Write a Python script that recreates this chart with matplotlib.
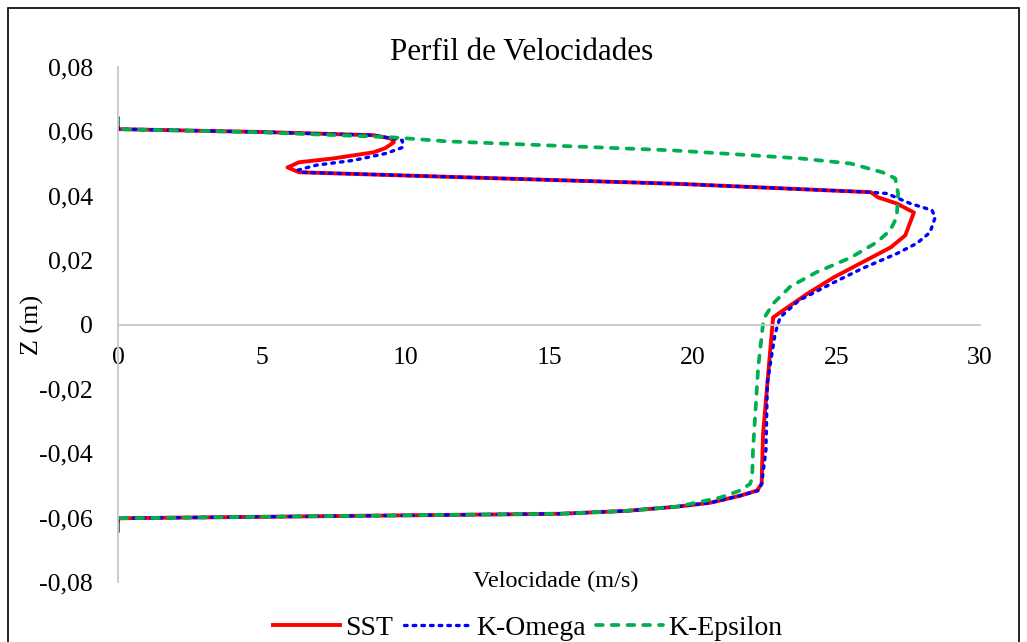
import matplotlib.pyplot as plt
from matplotlib.patches import Rectangle
from matplotlib.ticker import FuncFormatter, MultipleLocator

plt.rcParams['font.family'] = ['Liberation Serif', 'DejaVu Serif']

# velocity (m/s) vs height z (m)
sst_v = [0, 0, 5.0, 8.9, 9.5, 9.6, 9.3, 8.9, 7.5, 6.3, 5.9, 6.3, 19.5, 26.2, 26.45, 27.1,
         27.7, 27.4, 26.9, 25.9, 24.9, 24.0, 23.15, 22.8, 22.7, 22.45, 22.4, 22.24, 21.65,
         20.6, 19.45, 17.7, 15.4, 0, 0]
sst_z = [0.064, 0.0607, 0.0598, 0.0588, 0.0578, 0.0566, 0.0548, 0.0535, 0.0516, 0.0504,
         0.0488, 0.0473, 0.0437, 0.0411, 0.0395, 0.0376, 0.0348, 0.0277, 0.024, 0.0193,
         0.0146, 0.0096, 0.0044, 0.0022, -0.008, -0.034, -0.0495, -0.0516, -0.0532,
         -0.0554, -0.0566, -0.0579, -0.0588, -0.0602, -0.064]

omega_v = [0, 0, 5.0, 8.9, 9.9, 9.9, 9.35, 8.2, 6.9, 6.27, 6.33, 19.5, 26.2, 26.76, 27.57,
           28.33, 28.44, 28.26, 27.8, 27.1, 25.9, 24.9, 23.7, 23.04, 22.87, 22.6, 22.55,
           22.4, 22.28, 21.65, 20.6, 19.45, 17.7, 15.4, 0, 0]
omega_z = [0.064, 0.0607, 0.0598, 0.0588, 0.0572, 0.055, 0.0532, 0.051, 0.0495, 0.048,
           0.0473, 0.0437, 0.0411, 0.0407, 0.0376, 0.0355, 0.0333, 0.0286, 0.0252, 0.022,
           0.0174, 0.013, 0.0075, 0.0022, -0.0028, -0.018, -0.039, -0.0495, -0.0516,
           -0.0532, -0.0554, -0.0566, -0.0579, -0.0588, -0.0602, -0.064]

eps_v = [0, 0, 5.0, 9.47, 11.45, 19.3, 22.0, 23.74, 25.5, 26.6, 27.05, 27.15, 27.1, 26.87,
         26.4, 25.5, 24.3, 23.4, 22.8, 22.5, 22.45, 22.28, 22.1, 22.07, 22.0, 21.65,
         20.95, 19.45, 17.7, 15.4, 0, 0]
eps_z = [0.064, 0.0607, 0.0597, 0.0582, 0.0569, 0.0541, 0.0526, 0.0516, 0.050, 0.0473,
         0.0454, 0.0407, 0.0333, 0.0292, 0.0255, 0.0208, 0.0162, 0.0118, 0.0065, 0.0022,
         0.0003, -0.0133, -0.039, -0.0476, -0.0495, -0.0516, -0.0538, -0.0566, -0.0579,
         -0.0588, -0.0602, -0.064]

fig = plt.figure(figsize=(10.27, 6.42), dpi=100)
ax = fig.add_axes([118 / 1027, 1 - 582 / 642, 862 / 1027, 515 / 642])

ax.plot(sst_v, sst_z, color='#FF0000', lw=2.8, label='SST', solid_joinstyle='round')
ax.plot(omega_v, omega_z, color='#0000FF', lw=2.4, linestyle=(0, (0.8, 1.8)),
        dash_capstyle='round', label='K-Omega')
ax.plot(eps_v, eps_z, color='#00B050', lw=2.7, linestyle=(0, (1.8, 2.4)),
        dash_capstyle='round', label='K-Epsilon')

ax.set_xlim(0, 30)
ax.set_ylim(-0.08, 0.08)
ax.xaxis.set_major_locator(MultipleLocator(5))
ax.yaxis.set_major_locator(MultipleLocator(0.02))

fmt = FuncFormatter(lambda v, p: '0' if abs(v) < 1e-9 else f'{v:.2f}'.replace('.', ','))
ax.yaxis.set_major_formatter(fmt)
ax.xaxis.set_major_formatter(FuncFormatter(lambda v, p: f'{v:.0f}'))

for s in ['top', 'right']:
    ax.spines[s].set_visible(False)
ax.spines['bottom'].set_position(('data', 0))
ax.spines['bottom'].set_color('#C8C8C8')
ax.spines['left'].set_color('#C8C8C8')
ax.spines['bottom'].set_linewidth(1.3)
ax.spines['left'].set_linewidth(1.3)
ax.tick_params(axis='both', length=0, labelsize=18.5)
ax.tick_params(axis='y', pad=18)
ax.tick_params(axis='x', pad=16)

fig.text(522 / 1027, 1 - 53 / 642, 'Perfil de Velocidades', ha='center', va='center', fontsize=22.3)
fig.text(556 / 1027, 1 - 581 / 642, 'Velocidade (m/s)', ha='center', va='center', fontsize=17.5)
fig.text(32 / 1027, 1 - 325 / 642, 'Z (m)', ha='center', va='center', fontsize=18.8, rotation=90)

fig.legend(loc='center', bbox_to_anchor=(528 / 1027, 1 - 628 / 642), ncol=3, frameon=False,
           fontsize=20, handlelength=2.4, handletextpad=0.2, columnspacing=0.38,
           borderaxespad=0, borderpad=0)

fig.patches.append(Rectangle((8 / 1027, -0.05), 1011 / 1027, 1.05 - 8 / 642,
                             transform=fig.transFigure, fill=False, edgecolor='black',
                             lw=1.2))

fig.savefig('out.png', dpi=100)
